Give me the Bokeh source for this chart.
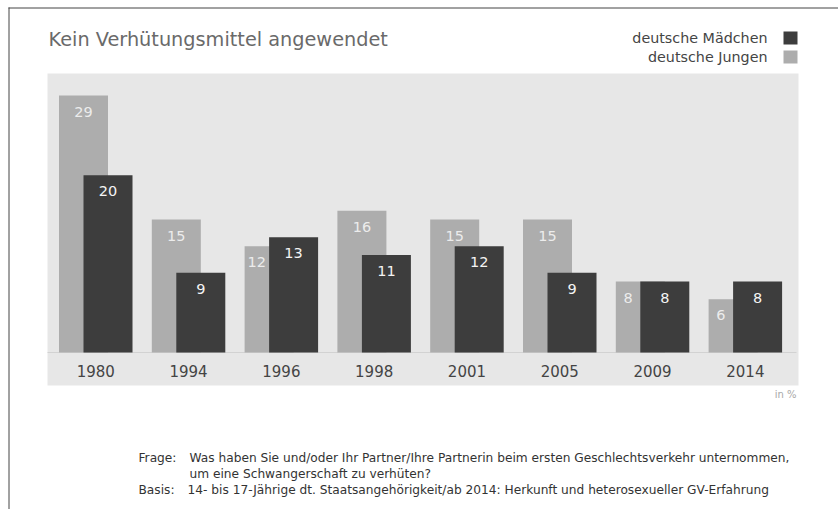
from bokeh.plotting import figure
from bokeh.models import Range1d, ColumnDataSource
from bokeh.core.properties import value
from bokeh.embed import file_html
from bokeh.resources import INLINE

# ---- data ----
years = ["1980", "1994", "1996", "1998", "2001", "2005", "2009", "2014"]
jungen = [29, 15, 12, 16, 15, 15, 8, 6]      # deutsche Jungen (light)
maedchen = [20, 9, 13, 11, 12, 9, 8, 8]       # deutsche Mädchen (dark)
title_text = "Kein Verhütungsmittel angewendet"
legend_labels = ["deutsche Mädchen", "deutsche Jungen"]
unit_text = "in %"
note_frage = ["Was haben Sie und/oder Ihr Partner/Ihre Partnerin beim ersten Geschlechtsverkehr unternommen,",
              "um eine Schwangerschaft zu verhüten?"]
note_basis = "14- bis 17-Jährige dt. Staatsangehörigkeit/ab 2014: Herkunft und heterosexueller GV-Erfahrung"

# ---- layout (page pixels) ----
W, H = 838, 509
ORG = 0          # page px of canvas origin
GX0 = 95.25      # canvas px of first group centre
GS = 92.8        # px per group
BASE = 352.0     # canvas px of zero line
VS = 8.86        # px per percent


def dx(px):
    return (px - ORG - GX0) / GS


def dy(py):
    return (BASE - (py - ORG)) / VS


FONT = value("DejaVu Sans")
LIGHT = "#adadad"
DARK = "#3d3d3d"
BG = "#e7e7e7"

p = figure(width=W, height=H, output_backend="svg", toolbar_location=None,
           x_range=Range1d(dx(ORG), dx(ORG + W)), y_range=Range1d(dy(ORG + H), dy(ORG)),
           min_border=0, min_border_left=0, min_border_right=0,
           min_border_top=0, min_border_bottom=0)
p.axis.visible = False
p.grid.visible = False
p.outline_line_color = None
p.background_fill_color = "white"
p.border_fill_color = "white"

# plot area background
p.quad(left=[dx(47)], right=[dx(798)], bottom=[dy(385)], top=[dy(73)],
       fill_color=BG, line_color=None)
# baseline
p.segment(x0=[dx(47)], x1=[dx(796)], y0=[0], y1=[0], line_color="#d2d2d2", line_width=1)

# bars
bw = 49 / GS
off = 12.25 / GS
idx = list(range(len(years)))
src = ColumnDataSource(dict(
    x=idx, jungen=jungen, maedchen=maedchen,
    xl=[i - off for i in idx], xd=[i + off for i in idx],
))
p.vbar(x="xl", top="jungen", bottom=0, width=bw, source=src, fill_color=LIGHT, line_color=None)
p.vbar(x="xd", top="maedchen", bottom=0, width=bw, source=src, fill_color=DARK, line_color=None)

# value labels
lab_dy = 16 / VS
jl_x = []
for i, (j, m) in enumerate(zip(jungen, maedchen)):
    if j - lab_dy > m:
        jl_x.append(i - off)
    else:
        jl_x.append(i - off - 12.25 / GS)
p.text(x=jl_x, y=[j - lab_dy for j in jungen], text=[str(v) for v in jungen],
       text_font=FONT, text_font_size="14.5px", text_color="#ececec",
       text_align="center", text_baseline="middle")
p.text(x=[i + off for i in idx], y=[m - lab_dy for m in maedchen], text=[str(v) for v in maedchen],
       text_font=FONT, text_font_size="14.5px", text_color="#f4f4f4",
       text_align="center", text_baseline="middle")

# year labels
p.text(x=idx, y=[dy(370)] * len(years), text=years, text_font=FONT, text_font_size="15px",
       text_color="#444444", text_align="center", text_baseline="middle")

# title
p.text(x=[dx(48)], y=[dy(39)], text=[title_text], text_font=FONT, text_font_size="19.3px",
       text_color="#6a6a6a", text_align="left", text_baseline="middle")

# legend
p.text(x=[dx(767), dx(767)], y=[dy(37), dy(56)], text=legend_labels, text_font=FONT,
       text_font_size="14.3px", text_color="#454545", text_align="right", text_baseline="middle")
p.rect(x=[dx(790), dx(790)], y=[dy(37.5), dy(56.5)], width=14, height=13,
       width_units="screen", height_units="screen", fill_color=[DARK, LIGHT], line_color=None)

# unit
p.text(x=[dx(796)], y=[dy(394)], text=[unit_text], text_font=FONT, text_font_size="10px",
       text_color="#a8a8a8", text_align="right", text_baseline="middle")

# footnotes
p.text(x=[dx(138), dx(138)], y=[dy(457), dy(489)], text=["Frage:", "Basis:"], text_font=FONT,
       text_font_size="12.2px", text_color="#333333", text_align="left", text_baseline="middle")
p.text(x=[dx(189), dx(189), dx(187)], y=[dy(457), dy(473), dy(489)],
       text=note_frage + [note_basis], text_font=FONT,
       text_font_size="12.2px", text_color="#333333", text_align="left", text_baseline="middle")

# scan border (top and left)
p.segment(x0=[dx(8), dx(8.5)], x1=[dx(838), dx(8.5)], y0=[dy(7.5), dy(7)], y1=[dy(7.5), dy(509)],
          line_color="#444444", line_width=1)

open("out.html", "w").write(file_html(p, INLINE))
